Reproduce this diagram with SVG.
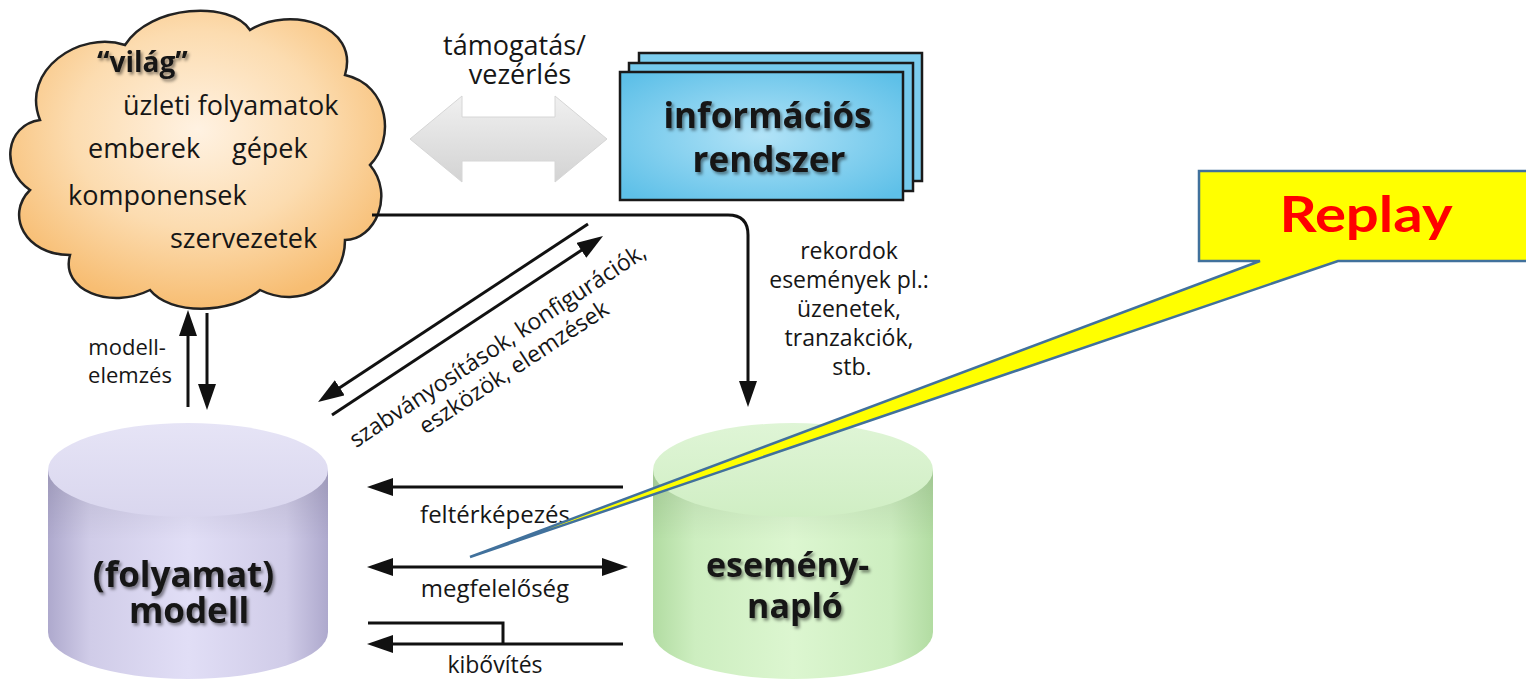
<svg xmlns="http://www.w3.org/2000/svg" width="1526" height="685" viewBox="0 0 1526 685">
  <defs>
    <style>
      .t { font-family: "Open Sans", "Noto Sans", "DejaVu Sans", sans-serif; fill: #161616; }
      .big { font-family: "Open Sans", "Noto Sans", "DejaVu Sans", sans-serif; font-weight: bold; fill: #161616; }
      .wire { fill: none; stroke: #111; stroke-width: 3; }
      .arr { marker-end: url(#head); }
      .both { marker-start: url(#head); marker-end: url(#head); }
    </style>
    <marker id="head" markerUnits="userSpaceOnUse" markerWidth="26" markerHeight="18" refX="16" refY="9" orient="auto-start-reverse">
      <path d="M0,0 L26,9 L0,18 Z" fill="#111"/>
    </marker>
    <filter id="shadow" x="-10%" y="-20%" width="130%" height="150%">
      <feDropShadow dx="2" dy="2.5" stdDeviation="1.6" flood-color="#000" flood-opacity="0.45"/>
    </filter>
    <radialGradient id="cloudFill" cx="0.5" cy="0.4" r="0.6">
      <stop offset="0" stop-color="#fff2e2"/>
      <stop offset="0.55" stop-color="#fcdcb0"/>
      <stop offset="1" stop-color="#f7bd72"/>
    </radialGradient>
    <radialGradient id="boxFill" cx="0.5" cy="0.5" r="0.65">
      <stop offset="0" stop-color="#b2e3f7"/>
      <stop offset="1" stop-color="#5ec0e8"/>
    </radialGradient>
    <linearGradient id="arrowFill" x1="0" y1="0" x2="0" y2="1">
      <stop offset="0" stop-color="#f0f0f0"/>
      <stop offset="1" stop-color="#d3d3d3"/>
    </linearGradient>
    <linearGradient id="purpleSide" x1="0" y1="0" x2="1" y2="0">
      <stop offset="0" stop-color="#aea9cd"/>
      <stop offset="0.15" stop-color="#d0cce8"/>
      <stop offset="0.5" stop-color="#e1def6"/>
      <stop offset="0.85" stop-color="#d0cce8"/>
      <stop offset="1" stop-color="#aea9cd"/>
    </linearGradient>
    <linearGradient id="purpleTop" x1="0" y1="0" x2="0" y2="1">
      <stop offset="0" stop-color="#e6e4f6"/>
      <stop offset="1" stop-color="#d9d6ee"/>
    </linearGradient>
    <linearGradient id="greenSide" x1="0" y1="0" x2="1" y2="0">
      <stop offset="0" stop-color="#b2dca2"/>
      <stop offset="0.15" stop-color="#cdeec0"/>
      <stop offset="0.5" stop-color="#dcf6d0"/>
      <stop offset="0.85" stop-color="#cdeec0"/>
      <stop offset="1" stop-color="#b2dca2"/>
    </linearGradient>
    <linearGradient id="greenTop" x1="0" y1="0" x2="0" y2="1">
      <stop offset="0" stop-color="#dff5d6"/>
      <stop offset="1" stop-color="#d0eec4"/>
    </linearGradient>
    <linearGradient id="rimShade" x1="0" y1="0" x2="0" y2="1">
      <stop offset="0" stop-color="#000" stop-opacity="0.10"/>
      <stop offset="1" stop-color="#000" stop-opacity="0"/>
    </linearGradient>
  </defs>

  <rect width="1526" height="685" fill="#fff"/>

  <!-- world cloud -->
  <g id="world">
    <path d="M40,120 C20,70 80,30 125,45 C150,5 230,0 250,30 C290,5 360,25 345,75 C390,85 395,140 370,165 C395,195 375,240 345,240 C345,285 300,310 260,290 C230,315 170,315 150,290 C110,310 60,290 70,255 C25,255 5,215 30,190 C0,170 5,125 40,120 Z" fill="url(#cloudFill)" stroke="#222" stroke-width="2.5"/>
    <text class="big" x="97" y="72" font-size="28" filter="url(#shadow)">“világ”</text>
    <text class="t" font-size="27">
      <tspan x="123" y="115">üzleti folyamatok</tspan>
      <tspan x="88" y="158">emberek</tspan>
      <tspan x="232" y="158">gépek</tspan>
      <tspan x="68" y="205">komponensek</tspan>
      <tspan x="170" y="248">szervezetek</tspan>
    </text>
  </g>

  <!-- support / control arrow -->
  <g id="support">
    <polygon points="410,139 462,96 462,117 555,117 555,96 607,139 555,182 555,161 462,161 462,182" fill="url(#arrowFill)" stroke="#d6d6d6" stroke-width="1"/>
    <text class="t" font-size="27" text-anchor="middle">
      <tspan x="518" y="55">támogatás/</tspan>
      <tspan x="520" y="84">vezérlés</tspan>
    </text>
  </g>

  <!-- information system stack -->
  <g id="infosystem">
    <rect x="639" y="53" width="283" height="128" fill="#7ccdee" stroke="#1a1a1a" stroke-width="2.5"/>
    <rect x="629" y="63" width="284" height="128" fill="#74c9ec" stroke="#1a1a1a" stroke-width="2.5"/>
    <rect x="620" y="72" width="283" height="128" fill="url(#boxFill)" stroke="#1a1a1a" stroke-width="2.5"/>
    <text class="big" font-size="35" text-anchor="middle" filter="url(#shadow)">
      <tspan x="772" y="128">információs</tspan>
      <tspan x="769" y="172">rendszer</tspan>
    </text>
  </g>

  <!-- process model cylinder -->
  <g id="model">
    <path d="M48,470 V632 A140,47 0 0 0 328,632 V470 Z" fill="url(#purpleSide)"/>
    <path d="M48,470 V540 H328 V470 Z" fill="url(#rimShade)"/>
    <ellipse cx="188" cy="470" rx="140" ry="47" fill="url(#purpleTop)"/>
    <text class="big" font-size="35" text-anchor="middle" filter="url(#shadow)">
      <tspan x="188" y="587">(folyamat)</tspan>
      <tspan x="189" y="623">modell</tspan>
    </text>
  </g>

  <!-- event log cylinder -->
  <g id="eventlog">
    <path d="M653,470 V632 A140,47 0 0 0 933,632 V470 Z" fill="url(#greenSide)"/>
    <path d="M653,470 V540 H933 V470 Z" fill="url(#rimShade)"/>
    <ellipse cx="793" cy="470" rx="140" ry="47" fill="url(#greenTop)"/>
    <text class="big" font-size="34" text-anchor="middle" filter="url(#shadow)">
      <tspan x="792" y="577">esemény-</tspan>
      <tspan x="795" y="618">napló</tspan>
    </text>
  </g>

  <!-- connectors and their labels -->
  <g id="connectors">
    <path class="wire arr" d="M372,215 H728 Q748,215 748,235 V397"/>
    <text class="t" font-size="23" text-anchor="middle">
      <tspan x="852" y="259">rekordok</tspan>
      <tspan x="852" y="288">események pl.:</tspan>
      <tspan x="852" y="317">üzenetek,</tspan>
      <tspan x="852" y="346">tranzakciók,</tspan>
      <tspan x="852" y="375">stb.</tspan>
    </text>

    <path class="wire arr" d="M188,407 V320"/>
    <path class="wire arr" d="M207,313 V400"/>
    <text class="t" font-size="22" text-anchor="middle">
      <tspan x="130" y="355">modell-</tspan>
      <tspan x="130" y="383">elemzés</tspan>
    </text>

    <path class="wire arr" d="M588,224 L326.4,396.5"/>
    <path class="wire arr" d="M332,415 L594.7,241.5"/>
    <text class="t" font-size="23" text-anchor="middle" transform="translate(502,352) rotate(-33.4)">szabványosítások, konfigurációk,</text>
    <text class="t" font-size="23" text-anchor="middle" transform="translate(518,374) rotate(-33.4)">eszközök, elemzések</text>

    <path class="wire arr" d="M623,487 H377"/>
    <text class="t" x="495" y="523" font-size="24" text-anchor="middle">feltérképezés</text>

    <path class="wire both" d="M377,567 H618"/>
    <text class="t" x="495" y="597" font-size="24" text-anchor="middle">megfelelőség</text>

    <path class="wire" d="M368,623 H503 V644"/>
    <path class="wire arr" d="M623,644 H377"/>
    <text class="t" x="495" y="673" font-size="23" text-anchor="middle">kibővítés</text>
  </g>

  <!-- replay callout -->
  <g id="replay">
    <path d="M1199,171 H1532 V261 H1338 L470,557 L1260,261 H1199 Z" fill="#ffff00" stroke="#41719c" stroke-width="2.5" stroke-linejoin="miter"/>
    <text x="1366" y="232" font-family="Lato, 'Open Sans', sans-serif" font-weight="bold" font-size="50" fill="#ff0000" text-anchor="middle" textLength="173" lengthAdjust="spacingAndGlyphs">Replay</text>
  </g>
</svg>
